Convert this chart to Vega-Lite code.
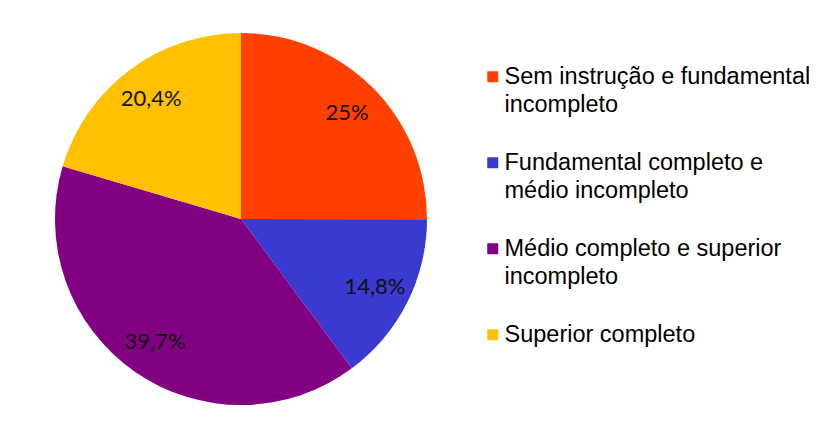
{
  "$schema": "https://vega.github.io/schema/vega-lite/v6.json",
  "width": 372,
  "height": 372,
  "autosize": {"type": "none"},
  "padding": {"left": 55, "top": 33, "right": 389, "bottom": 20},
  "background": "white",
  "config": {"view": {"stroke": null}},
  "data": {
    "values": [
      {"cat": "Sem instrução e fundamental incompleto", "pct": 25, "rotulo": "25%", "ordem": 1},
      {"cat": "Fundamental completo e médio incompleto", "pct": 14.8, "rotulo": "14,8%", "ordem": 2},
      {"cat": "Médio completo e superior incompleto", "pct": 39.7, "rotulo": "39,7%", "ordem": 3},
      {"cat": "Superior completo", "pct": 20.4, "rotulo": "20,4%", "ordem": 4}
    ]
  },
  "layer": [
    {
      "mark": {"type": "arc", "outerRadius": 186},
      "encoding": {
        "theta": {"field": "pct", "type": "quantitative", "stack": true},
        "order": {"field": "ordem", "type": "quantitative"},
        "color": {
          "field": "cat",
          "type": "nominal",
          "scale": {
            "domain": ["Sem instrução e fundamental incompleto", "Fundamental completo e médio incompleto", "Médio completo e superior incompleto", "Superior completo"],
            "range": ["#FF4000", "#3A3AD0", "#820082", "#FFC000"]
          },
          "legend": {
            "title": null,
            "orient": "none",
            "legendX": 426,
            "legendY": 32,
            "symbolType": "square",
            "symbolSize": 121,
            "symbolStrokeWidth": 0,
            "labelFont": "Liberation Sans",
            "labelFontSize": 23.5,
            "labelColor": "black",
            "labelOffset": 0,
            "labelLimit": 500,
            "rowPadding": 33,
            "labelBaseline": "alphabetic",
            "labelExpr": "datum.label == 'Sem instrução e fundamental incompleto' ? ['Sem instrução e fundamental', 'incompleto'] : datum.label == 'Fundamental completo e médio incompleto' ? ['Fundamental completo e', 'médio incompleto'] : datum.label == 'Médio completo e superior incompleto' ? ['Médio completo e superior', 'incompleto'] : datum.label",
            "encode": {"labels": {"update": {"dy": {"value": 7}, "lineHeight": {"value": 28}}}}
          }
        }
      }
    },
    {
      "mark": {"type": "text", "radius": 150, "font": "Lato", "fontSize": 22, "color": "#111111"},
      "encoding": {
        "theta": {"field": "pct", "type": "quantitative", "stack": true},
        "order": {"field": "ordem", "type": "quantitative"},
        "text": {"field": "rotulo"}
      }
    }
  ]
}
